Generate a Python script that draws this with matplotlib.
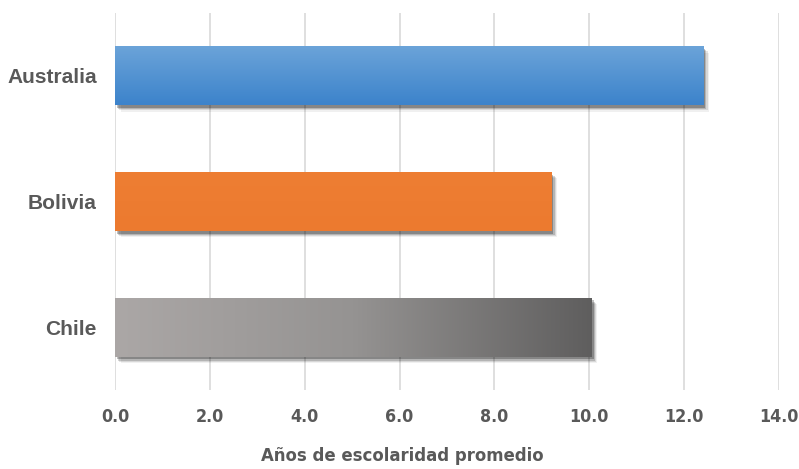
import numpy as np
import matplotlib
matplotlib.use("Agg")
import matplotlib.pyplot as plt
import matplotlib.patheffects as pe
from matplotlib.colors import LinearSegmentedColormap

# Mean years of schooling by country
countries = ["Australia", "Bolivia", "Chile"]
years = [12.4, 9.2, 10.05]
xticks = [0, 2, 4, 6, 8, 10, 12, 14]

text_color = "#595959"
grid_color = "#d9d9d9"

fig = plt.figure(figsize=(7.99, 4.69), dpi=100)
ax = fig.add_axes([115 / 799, 1 - 390 / 469, 664 / 799, 377 / 469])

bars = ax.barh(countries, years, height=0.47, facecolor="none",
               edgecolor="none", zorder=3)

# soft drop shadow built from stacked offset copies
shadow = [
    pe.SimplePatchShadow(offset=(4.0, -4.5), shadow_rgbFace="#000000", alpha=0.06),
    pe.SimplePatchShadow(offset=(3.2, -3.6), shadow_rgbFace="#000000", alpha=0.10),
    pe.SimplePatchShadow(offset=(2.4, -2.8), shadow_rgbFace="#000000", alpha=0.16),
    pe.SimplePatchShadow(offset=(1.5, -1.9), shadow_rgbFace="#000000", alpha=0.25),
    pe.Normal(),
]

fills = [
    # vertical gradient, lighter on top
    ("v", ["#6ca4d9", "#3c83cb"]),
    ("v", ["#ee7e33", "#ec7a2f"]),
    # horizontal gradient, light on left to dark on right
    ("h", ["#aba7a6", "#959392", "#5f5e5e"]),
]

for bar, (direction, cols) in zip(bars, fills):
    x0, y0 = bar.get_x(), bar.get_y()
    w, h = bar.get_width(), bar.get_height()
    sh = plt.Rectangle((x0, y0), w, h, facecolor="#6e6e6e", edgecolor="none",
                       zorder=2.5)
    sh.set_path_effects(shadow)
    ax.add_patch(sh)
    cmap = LinearSegmentedColormap.from_list("fill", cols)
    grad = np.linspace(0, 1, 256)
    if direction == "v":
        img = grad.reshape(-1, 1)
        origin = "upper"
    else:
        img = grad.reshape(1, -1)
        origin = "lower"
    im = ax.imshow(img, cmap=cmap, aspect="auto", origin=origin,
                   extent=(x0, x0 + w, y0 + h, y0), zorder=3,
                   interpolation="bicubic")
    im.set_clip_path(bar)

ax.set_xlim(0, 14)
ax.set_ylim(2.5, -0.5)
ax.set_aspect("auto")
ax.set_xticks(xticks)
ax.set_xticklabels([f"{t:.1f}" for t in xticks])
ax.grid(axis="x", color=grid_color, linewidth=1.2, zorder=0)
ax.set_axisbelow(True)
for s in ax.spines.values():
    s.set_visible(False)
ax.tick_params(axis="both", length=0, colors=text_color)
ax.tick_params(axis="x", pad=13)
ax.tick_params(axis="y", pad=13)

for lab in ax.get_xticklabels():
    lab.set_fontfamily("DejaVu Sans")
    lab.set_fontstretch("condensed")
    lab.set_fontweight("bold")
    lab.set_fontsize(12.8)
    lab.set_color(text_color)
for lab in ax.get_yticklabels():
    lab.set_fontfamily(["Liberation Sans", "DejaVu Sans"])
    lab.set_fontweight("bold")
    lab.set_fontsize(15)
    lab.set_color(text_color)

fig.text(0.503, 1 - 456 / 469, "Años de escolaridad promedio",
         ha="center", va="center", fontfamily="DejaVu Sans",
         fontstretch="condensed", fontweight="bold", fontsize=13.2,
         color=text_color)

fig.savefig("out.png", dpi=100)
